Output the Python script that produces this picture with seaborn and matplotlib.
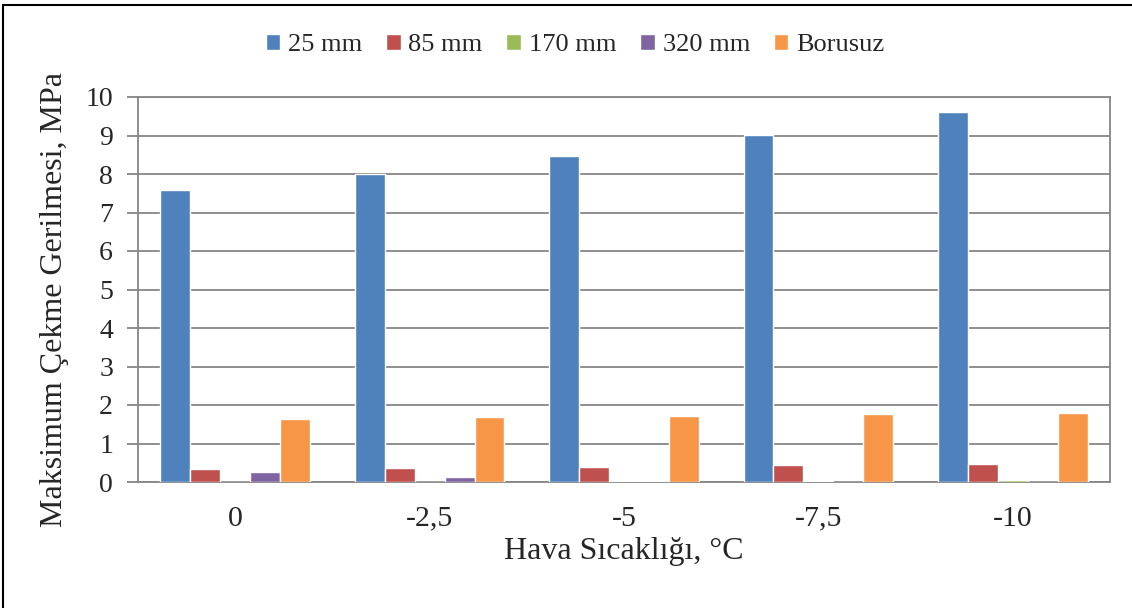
import matplotlib
matplotlib.use("Agg")
import matplotlib.pyplot as plt
import matplotlib.patches as mpatches
import seaborn as sns
import pandas as pd

# Air temperature categories (°C) and maximum tensile stress (MPa) per pipe spacing
temperatures = ["0", "-2,5", "-5", "-7,5", "-10"]
series_names = ["25 mm", "85 mm", "170 mm", "320 mm", "Borusuz"]
stress_25mm = [7.58, 8.00, 8.48, 9.01, 9.62]
stress_85mm = [0.33, 0.36, 0.39, 0.43, 0.47]
stress_170mm = [0.01, 0.01, 0.02, 0.03, 0.04]
stress_320mm = [0.25, 0.14, 0.03, 0.01, 0.01]
stress_none = [1.64, 1.69, 1.72, 1.77, 1.80]
y_ticks = [0, 1, 2, 3, 4, 5, 6, 7, 8, 9, 10]

colors = ["#4F81BD", "#C0504D", "#9BBB59", "#8064A2", "#F79646"]

all_series = [stress_25mm, stress_85mm, stress_170mm, stress_320mm, stress_none]
records = []
for name, values in zip(series_names, all_series):
    for temp, v in zip(temperatures, values):
        records.append({"Sıcaklık": temp, "Seri": name, "Gerilme": v})
df = pd.DataFrame(records)

sns.set_theme(style="white")
plt.rcParams["font.family"] = ["Liberation Serif", "DejaVu Serif"]

fig = plt.figure(figsize=(11.32, 6.08), dpi=100)
ax = fig.add_axes([138 / 1132, 1 - 482 / 608, (1110 - 138) / 1132, (482 - 97) / 608])

sns.barplot(data=df, x="Sıcaklık", y="Gerilme", hue="Seri", order=temperatures,
            hue_order=series_names, palette=colors, width=0.77, saturation=1,
            errorbar=None, legend=False, ax=ax, zorder=3)

grid_color = "#868686"
ax.set_ylim(0, 10)
ax.set_yticks(y_ticks)
ax.set_yticklabels([str(t) for t in y_ticks], fontsize=20)
ax.set_xlim(-0.5, len(temperatures) - 0.5)
ax.yaxis.grid(True, color=grid_color, linewidth=1.3, zorder=0)
ax.set_axisbelow(True)

# Category separators below the x axis
ax.set_xticks(range(len(temperatures)))
ax.set_xticklabels(temperatures, fontsize=21.5)
ax.set_xticks([i - 0.5 for i in range(len(temperatures) + 1)], minor=True)
ax.tick_params(axis="x", which="major", length=0, pad=17)
ax.tick_params(axis="x", which="minor", length=8, width=1.3, color=grid_color)
ax.tick_params(axis="y", which="major", length=8, width=1.3, color=grid_color, pad=10,
               direction="out", left=True)

for side in ["left", "bottom", "right", "top"]:
    ax.spines[side].set_visible(True)
    ax.spines[side].set_color(grid_color)
    ax.spines[side].set_linewidth(1.3)

ax.set_xlabel("Hava Sıcaklığı, °C", fontsize=23, labelpad=4)
ax.set_ylabel("Maksimum Çekme Gerilmesi, MPa", fontsize=23)
ax.yaxis.set_label_coords(-69 / 972, 0.475)

handles = [mpatches.Patch(facecolor=c, label=n) for c, n in zip(colors, series_names)]
fig.legend(handles=handles, loc="center", bbox_to_anchor=(575 / 1132, 1 - 45 / 608),
           ncol=5, frameon=False, fontsize=19, handlelength=0.55, handleheight=0.55,
           handletextpad=0.3, columnspacing=0.9)

# Outer chart frame
fig.patches.append(mpatches.Rectangle((3 / 1132, -0.1), 1.2, 1 - 5 / 608 + 0.1,
                                      transform=fig.transFigure, fill=False,
                                      edgecolor="black", linewidth=1.5))

fig.savefig("out.png", dpi=100)
